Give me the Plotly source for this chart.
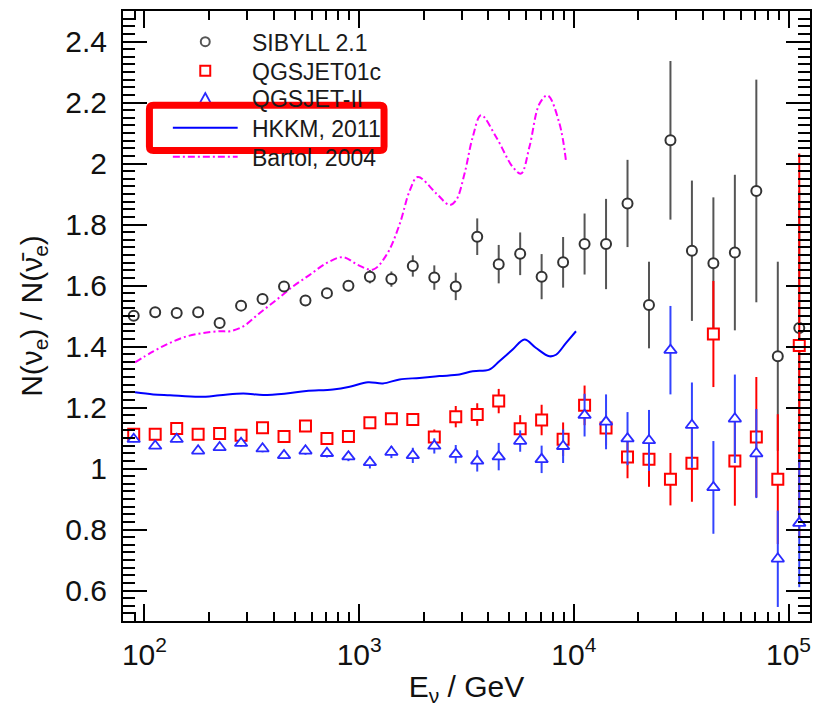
import plotly.graph_objects as go

# ---------------- data ----------------
E_BINS = [89.1, 112.2, 141.3, 177.8, 223.9, 281.8, 354.8, 446.7, 562.3, 707.9,
          891.3, 1122, 1413, 1778, 2239, 2818, 3548, 4467, 5623, 7079,
          8913, 11220, 14125, 17783, 22387, 28184, 35481, 44668, 56234, 70795,
          89125, 112202]

SIBYLL = [1.501, 1.512, 1.510, 1.512, 1.477, 1.534, 1.556, 1.597, 1.551, 1.575,
          1.599, 1.629, 1.621, 1.664, 1.626, 1.597, 1.760, 1.670, 1.704, 1.629,
          1.676, 1.736, 1.736, 1.869, 1.536, 2.076, 1.714, 1.673, 1.708, 1.910,
          1.368, 1.461]
SIBYLL_ERR = [0.008, 0.008, 0.008, 0.008, 0.009, 0.009, 0.010, 0.011, 0.012, 0.014,
              0.018, 0.022, 0.025, 0.035, 0.040, 0.045, 0.060, 0.063, 0.070, 0.074,
              0.083, 0.100, 0.148, 0.143, 0.142, 0.260, 0.230, 0.216, 0.255, 0.365,
              0.310, 0.450]

QGS01 = [1.112, 1.112, 1.131, 1.112, 1.115, 1.109, 1.134, 1.105, 1.139, 1.098,
         1.105, 1.150, 1.163, 1.161, 1.103, 1.170, 1.177, 1.221, 1.130, 1.159,
         1.096, 1.207, 1.133, 1.038, 1.030, 0.965, 1.017, 1.441, 1.025, 1.103,
         0.965, 1.403]
QGS01_ERR = [0.010, 0.010, 0.010, 0.010, 0.010, 0.010, 0.011, 0.011, 0.012, 0.012,
             0.013, 0.015, 0.020, 0.020, 0.025, 0.035, 0.037, 0.040, 0.045, 0.050,
             0.055, 0.065, 0.058, 0.070, 0.090, 0.086, 0.126, 0.174, 0.147, 0.197,
             0.213, 0.630]

QGSII = [1.096, 1.074, 1.096, 1.058, 1.069, 1.083, 1.065, 1.043, 1.058, 1.050,
         1.039, 1.020, 1.054, 1.043, 1.074, 1.047, 1.025, 1.039, 1.090, 1.030,
         1.073, 1.175, 1.153, 1.098, 1.092, 1.388, 1.142, 0.938, 1.163, 1.049,
         0.704, 0.821]
QGSII_ERR = [0.010, 0.010, 0.010, 0.010, 0.011, 0.011, 0.012, 0.012, 0.013, 0.014,
             0.015, 0.020, 0.020, 0.025, 0.025, 0.030, 0.035, 0.045, 0.035, 0.045,
             0.055, 0.070, 0.090, 0.087, 0.100, 0.145, 0.140, 0.152, 0.145, 0.146,
             0.158, 0.210]

HKKM_E = [90.4, 109.9, 131.5, 181.1, 224.4, 288.4, 357.3, 458.1, 567.5, 755.1,
          903.6, 1099, 1291, 1542, 1910, 2366, 2931, 3381, 4036, 4498,
          5188, 5888, 6668, 7691, 8260, 9204, 10233]
HKKM_R = [1.250, 1.243, 1.240, 1.235, 1.240, 1.246, 1.241, 1.246, 1.254, 1.259,
          1.268, 1.283, 1.279, 1.292, 1.297, 1.303, 1.308, 1.319, 1.324, 1.352,
          1.390, 1.423, 1.395, 1.368, 1.373, 1.412, 1.450]

BARTOL_E = [90.4, 109.9, 131.5, 157.0, 187.5, 224.4, 250.0, 288.4, 344.4, 412.1,
            492.0, 588.8, 703.1, 841.4, 984.0, 1159, 1340, 1542, 1718, 1875,
            2286, 2636, 2831, 3097, 3381, 3698, 4345, 5188, 5675, 6209,
            6918, 7551, 8570, 9204]
BARTOL_R = [1.348, 1.384, 1.412, 1.433, 1.444, 1.450, 1.450, 1.466, 1.510, 1.553,
            1.597, 1.635, 1.673, 1.693, 1.668, 1.652, 1.700, 1.800, 1.910, 1.956,
            1.902, 1.864, 1.880, 1.967, 2.087, 2.158, 2.087, 1.989, 1.967, 2.054,
            2.196, 2.223, 2.131, 2.005]

LEGEND_LABELS = ["SIBYLL 2.1", "QGSJET01c", "QGSJET-II", "HKKM, 2011", "Bartol, 2004"]
X_TICKS = [1e2, 1e3, 1e4, 1e5]
X_TICK_TEXT = ["10<sup>2</sup>", "10<sup>3</sup>", "10<sup>4</sup>", "10<sup>5</sup>"]

# ---------------- layout geometry ----------------
W, H = 818, 713
ML, MR, MT, MB = 123, 6, 11, 92
PW, PH = W - ML - MR, H - MT - MB
FONT = "Liberation Sans, Arial, Helvetica, sans-serif"


def px(x):
    return (x - ML) / PW


def py(y):
    return (H - MB - y) / PH


fig = go.Figure()

fig.add_trace(go.Scatter(x=BARTOL_E, y=BARTOL_R, mode="lines", showlegend=False,
                         line=dict(color="#ff00ff", width=2, dash="7px,3px,2px,3px",
                                   shape="spline")))
fig.add_trace(go.Scatter(x=HKKM_E, y=HKKM_R, mode="lines", showlegend=False,
                         line=dict(color="#0000ff", width=2, shape="spline")))
fig.add_trace(go.Scatter(x=E_BINS, y=SIBYLL, mode="markers", showlegend=False,
                         marker=dict(symbol="circle", size=10, color="white",
                                     line=dict(color="#333333", width=2)),
                         error_y=dict(type="data", array=SIBYLL_ERR, color="#555555",
                                      thickness=2, width=0)))
fig.add_trace(go.Scatter(x=E_BINS, y=QGS01, mode="markers", showlegend=False,
                         marker=dict(symbol="square", size=11, color="white",
                                     line=dict(color="#ff0000", width=2)),
                         error_y=dict(type="data", array=QGS01_ERR, color="#ff0000",
                                      thickness=2, width=0)))
fig.add_trace(go.Scatter(x=E_BINS, y=QGSII, mode="markers", showlegend=False,
                         marker=dict(symbol="triangle-up", size=11, color="white",
                                     line=dict(color="#2a2aff", width=1.8)),
                         error_y=dict(type="data", array=QGSII_ERR, color="#3344ff",
                                      thickness=2, width=0)))

# ---------------- manual legend ----------------
shapes = []
annotations = []
row_y = [41.7, 70.7, 98.5, 127.7, 156.7]
sym_x = 205.5
text_x = 250

# circle
r = 4.5
shapes.append(dict(type="circle", xref="paper", yref="paper",
                   x0=px(sym_x - r), x1=px(sym_x + r), y0=py(row_y[0] + r), y1=py(row_y[0] - r),
                   line=dict(color="#555555", width=2)))
# square
s = 5
shapes.append(dict(type="rect", xref="paper", yref="paper",
                   x0=px(sym_x - s), x1=px(sym_x + s), y0=py(row_y[1] + s), y1=py(row_y[1] - s),
                   line=dict(color="#ff0000", width=2)))
# triangle
ty = row_y[2]
tri = (f"M {px(sym_x)},{py(ty - 5.5)} L {px(sym_x + 5.5)},{py(ty + 4.5)} "
       f"L {px(sym_x - 5.5)},{py(ty + 4.5)} Z")
shapes.append(dict(type="path", xref="paper", yref="paper", path=tri,
                   line=dict(color="#2a2aff", width=1.8)))
# lines
shapes.append(dict(type="line", xref="paper", yref="paper",
                   x0=px(173), x1=px(238), y0=py(row_y[3]), y1=py(row_y[3]),
                   line=dict(color="#0000ff", width=2)))
shapes.append(dict(type="line", xref="paper", yref="paper",
                   x0=px(173), x1=px(238), y0=py(row_y[4]), y1=py(row_y[4]),
                   line=dict(color="#ff00ff", width=2, dash="7px,3px,2px,3px")))

for lab, yy in zip(LEGEND_LABELS, row_y):
    annotations.append(dict(text=lab, xref="paper", yref="paper", x=px(text_x), y=py(yy + 1),
                            xanchor="left", yanchor="middle", showarrow=False,
                            font=dict(family=FONT, size=23, color="#1a1a1a")))


# highlight box (rounded)
def rounded_rect(x0, y0, x1, y1, rr):
    return (f"M {px(x0 + rr)},{py(y0)} L {px(x1 - rr)},{py(y0)} "
            f"Q {px(x1)},{py(y0)} {px(x1)},{py(y0 + rr)} L {px(x1)},{py(y1 - rr)} "
            f"Q {px(x1)},{py(y1)} {px(x1 - rr)},{py(y1)} L {px(x0 + rr)},{py(y1)} "
            f"Q {px(x0)},{py(y1)} {px(x0)},{py(y1 - rr)} L {px(x0)},{py(y0 + rr)} "
            f"Q {px(x0)},{py(y0)} {px(x0 + rr)},{py(y0)} Z")


shapes.append(dict(type="path", xref="paper", yref="paper", layer="above",
                   path=rounded_rect(149.5, 105.2, 384.8, 150.5, 4),
                   line=dict(color="#ff0000", width=7)))

minor_x = [d * 10 ** e for e in range(1, 6) for d in range(2, 10)]

fig.update_layout(
    width=W, height=H,
    margin=dict(l=ML, r=MR, t=MT, b=MB),
    paper_bgcolor="white", plot_bgcolor="white",
    font=dict(family=FONT, size=30, color="#111111"),
    shapes=shapes, annotations=annotations,
    showlegend=False,
    xaxis=dict(type="log", range=[1.9, 5.1], tickmode="array", tickvals=X_TICKS,
               ticktext=X_TICK_TEXT, ticks="inside", ticklen=17, tickwidth=2,
               tickcolor="black", showline=True, linecolor="black", linewidth=2,
               mirror="allticks", showgrid=False, zeroline=False,
               tickfont=dict(size=30, family=FONT),
               ticklabelstandoff=6,
               minor=dict(tickmode="array", tickvals=minor_x, ticks="inside", ticklen=9,
                          tickwidth=1.5, tickcolor="black", showgrid=False),
               title=dict(text="E<sub>ν</sub> / GeV", font=dict(size=30, family=FONT),
                          standoff=6)),
    yaxis=dict(range=[0.5, 2.5], tick0=0, dtick=0.2, ticks="inside", ticklen=24,
               tickwidth=2, tickcolor="black", showline=True, linecolor="black",
               linewidth=2, mirror="allticks", showgrid=False, zeroline=False,
               tickfont=dict(size=30, family=FONT),
               ticklabelstandoff=8,
               minor=dict(tick0=0, dtick=0.025, ticks="inside", ticklen=12,
                          tickwidth=1.5, tickcolor="black", showgrid=False),
               title=dict(text="N(ν<sub>e</sub>) / N(ν̄<sub>e</sub>)",
                          font=dict(size=30, family=FONT), standoff=14)),
)

fig.write_html("out.html")
